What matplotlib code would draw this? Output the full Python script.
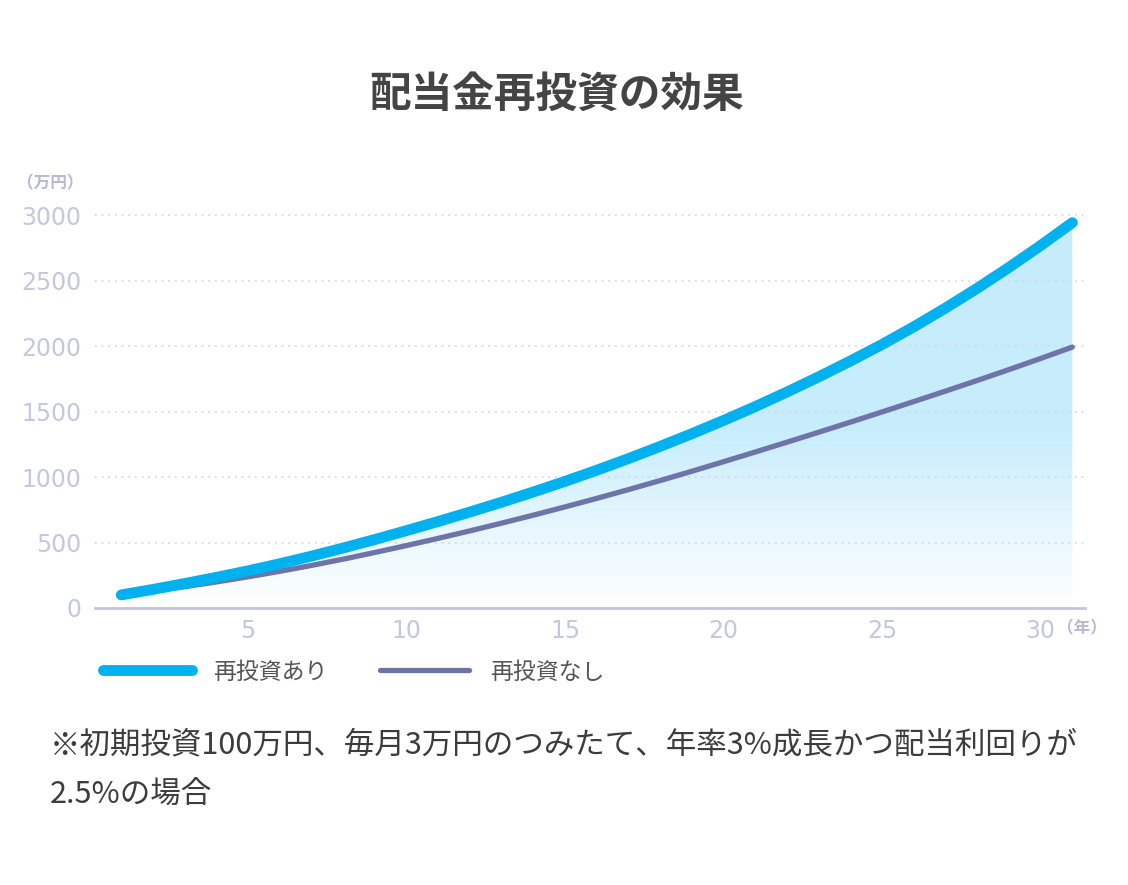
import numpy as np
import matplotlib
matplotlib.use("Agg")
import matplotlib.pyplot as plt
from matplotlib.colors import LinearSegmentedColormap

plt.rcParams['font.family'] = ['Noto Sans CJK JP', 'DejaVu Sans']

# 31 points: year 0..30 plotted on category positions 1..31
positions = np.arange(1, 32)
with_reinvest = [100, 142, 187, 234, 284, 338, 396, 458, 523, 591,
                 661, 733, 808, 886, 967, 1052, 1141, 1234, 1331, 1432,
                 1538, 1649, 1765, 1886, 2012, 2147, 2290, 2441, 2600, 2767, 2942]
without_reinvest = [100, 130, 163, 199, 238, 280, 325, 373, 424, 477,
                    532, 589, 648, 709, 772, 837, 904, 973, 1044, 1117,
                    1191, 1266, 1342, 1419, 1497, 1576, 1656, 1737, 1820, 1905, 1992]
xticks = [5, 10, 15, 20, 25, 30]
yticks = [0, 500, 1000, 1500, 2000, 2500, 3000]

cyan = '#00b1ef'
purple = '#6e73a8'
tick_col = '#c6c6dd'

fig = plt.figure(figsize=(11.28, 8.85), dpi=100)
ax = fig.add_axes([95/1128, 0.313, (1085-95)/1128, 0.4514])

# gradient fill under the upper curve
poly = ax.fill_between(positions, with_reinvest, 0, color='none', lw=0)
cmap = LinearSegmentedColormap.from_list('g', [(0, '#ffffff'), (0.45, '#c8edfc'), (1, '#c6ecfb')])
grad = np.linspace(0, 1, 256).reshape(-1, 1)
im = ax.imshow(grad, cmap=cmap, origin='lower', aspect='auto',
               extent=[positions[0], positions[-1], 0, 3000], zorder=1)
im.set_clip_path(poly.get_paths()[0], transform=ax.transData)
ax.set_xlim(0.17, 31.4)
ax.set_ylim(0, 3050)

for y in yticks[1:]:
    ax.axhline(y, color='#d4d4e0', lw=1.2, ls=(0, (1, 3)), zorder=2)

ax.plot(positions, without_reinvest, color=purple, lw=3.8, zorder=3,
        solid_capstyle='round', label='再投資なし')
ax.plot(positions, with_reinvest, color=cyan, lw=7.8, zorder=4,
        solid_capstyle='round', clip_on=False, label='再投資あり')

for s in ['top', 'right', 'left']:
    ax.spines[s].set_visible(False)
ax.spines['bottom'].set_color('#c4c4dc')
ax.spines['bottom'].set_linewidth(2)

ax.set_xticks(xticks)
ax.set_yticks(yticks)
ax.tick_params(axis='both', length=0, labelsize=17, labelcolor=tick_col)
ax.tick_params(axis='y', pad=10)
ax.tick_params(axis='x', pad=8)
for lab in ax.get_xticklabels() + ax.get_yticklabels():
    lab.set_family(['DejaVu Sans'])

handles, labels = ax.get_legend_handles_labels()
leg = ax.legend(handles[::-1], labels[::-1], ncol=2, frameon=False,
                loc='center left', bbox_to_anchor=(103/1128, 1-672/885),
                bbox_transform=fig.transFigure, borderpad=0, borderaxespad=0,
                handlelength=3.9, handletextpad=0.9, columnspacing=2.3,
                prop={'size': 16.5})
for t in leg.get_texts():
    t.set_color('#555555')

fig.text(557/1128, 1-95/885, '配当金再投資の効果', ha='center', va='center',
         fontsize=30, fontweight='bold', color='#444444')
fig.text(17/1128, 1-183/885, '（万円）', ha='left', va='center',
         fontsize=12, fontweight='bold', color='#b8b8d4')
fig.text(1057/1128, 1-628/885, '（年）', ha='left', va='center',
         fontsize=12, fontweight='bold', color='#b8b8d4')
fig.text(50/1128, 1-745/885, '※初期投資100万円、毎月3万円のつみたて、年率3%成長かつ配当利回りが',
         ha='left', va='center', fontsize=22, color='#3c3c3c')
fig.text(50/1128, 1-795/885, '2.5%の場合', ha='left', va='center',
         fontsize=22, color='#3c3c3c')

fig.savefig('out.png', dpi=100)
